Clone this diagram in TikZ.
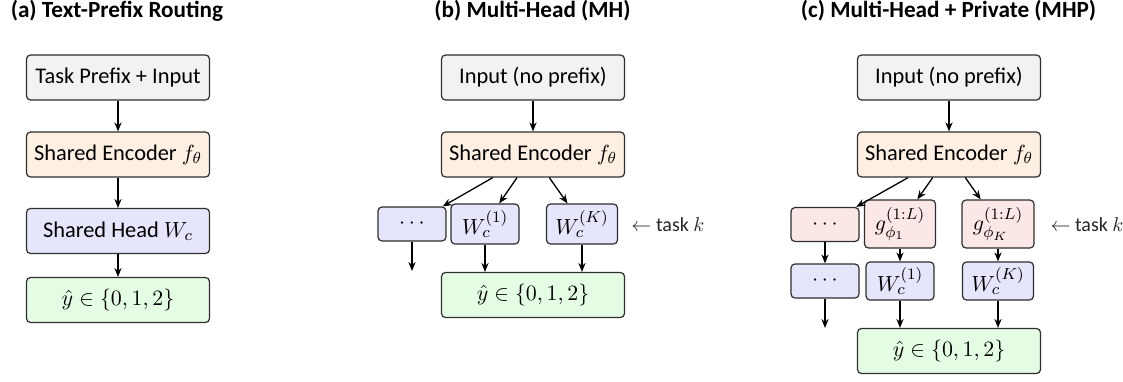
\documentclass[tikz,border=0pt]{standalone}
\usepackage{fontspec}
\setmainfont{Carlito}
\usetikzlibrary{arrows.meta}
\definecolor{cin}{HTML}{F2F2F2}
\definecolor{cenc}{HTML}{FDEFE1}
\definecolor{chead}{HTML}{E5E5FB}
\definecolor{cout}{HTML}{E4FBE4}
\definecolor{cpriv}{HTML}{FCE7E7}
\definecolor{cborder}{HTML}{2E2E2E}
\begin{document}
\begin{tikzpicture}[x=0.5pt,y=-0.5pt,
  font=\fontsize{11.2}{13.5}\selectfont,
  box/.style={draw=cborder, rounded corners=2pt, line width=0.6pt, align=center, inner sep=1pt},
  big/.style={box, minimum width=91.5pt, minimum height=22.5pt},
  hbox/.style={box, minimum width=34pt, minimum height=20pt},
  dbox/.style={box, minimum width=34pt, minimum height=17pt},
  gbox/.style={box, minimum width=35.5pt, minimum height=24pt},
  arr/.style={-{Stealth[length=4.5pt,width=3.6pt]}, line width=0.65pt},
  ttl/.style={font=\fontsize{11.6}{13.5}\selectfont\bfseries, anchor=base},
  tk/.style={font=\fontsize{10}{12}\selectfont, text=black!85}]
\useasboundingbox (0,0) rectangle (1123,381);

% (a)
\node[ttl] (ta) at (117,17) {(a) Text-Prefix Routing};
\node[big, fill=cin] (a1) at (118,77.5) {Task Prefix + Input};
\node[big, fill=cenc] (a2) at (118,154.5) {Shared Encoder $f_\theta$};
\node[big, fill=chead] (a3) at (118,231) {Shared Head $W_c$};
\node[big, fill=cout] (a4) at (118,300) {$\hat{y}\in\{0,1,2\}$};
\draw[arr] (a1) -- (a2);
\draw[arr] (a2) -- (a3);
\draw[arr] (a3) -- (a4);

% (b)
\node[ttl] (tb) at (532.5,17) {(b) Multi-Head (MH)};
\node[big, fill=cin] (b1) at (533,77.5) {Input (no prefix)};
\node[big, fill=cenc] (b2) at (533,154.5) {Shared Encoder $f_\theta$};
\node[dbox, fill=chead] (bd) at (412,224) {$\cdots$};
\node[hbox, fill=chead] (bw1) at (485,224) {$W_c^{(1)}$};
\node[hbox, fill=chead, minimum width=35.5pt] (bwk) at (582,224) {$W_c^{(K)}$};
\node[big, fill=cout] (b4) at (533,295) {$\hat{y}\in\{0,1,2\}$};
\coordinate (bdend) at (412,271);
\node[tk] (bk) at (668,225) {$\leftarrow$ task $k$};
\draw[arr] (b1) -- (b2);
\draw[arr] (b2) -- (bd);
\draw[arr] (b2) -- (bw1);
\draw[arr] (b2) -- (bwk);
\draw[arr] (bd) -- (bdend);
\draw[arr] (bw1) -- (bw1 |- b4.north);
\draw[arr] (bwk) -- (bwk |- b4.north);

% (c)
\node[ttl] (tc) at (948.5,17) {(c) Multi-Head + Private (MHP)};
\node[big, fill=cin] (c1) at (949,77.5) {Input (no prefix)};
\node[big, fill=cenc] (c2) at (949,154.5) {Shared Encoder $f_\theta$};
\node[dbox, fill=cpriv] (cpd) at (825,224.5) {$\cdots$};
\node[gbox, fill=cpriv] (cg1) at (900,224) {$g^{(1:L)}_{\phi_1}$};
\node[gbox, fill=cpriv, minimum width=36pt] (cgk) at (998,224) {$g^{(1:L)}_{\phi_K}$};
\node[dbox, fill=chead] (cwd) at (825,281) {$\cdots$};
\node[hbox, fill=chead, minimum height=19pt] (cw1) at (900,281) {$W_c^{(1)}$};
\node[hbox, fill=chead, minimum height=19pt, minimum width=35.5pt] (cwk) at (998,281) {$W_c^{(K)}$};
\node[big, fill=cout] (c4) at (949,351) {$\hat{y}\in\{0,1,2\}$};
\coordinate (cdend) at (825,328);
\node[tk] (ck) at (1087,225) {$\leftarrow$ task $k$};
\draw[arr] (c1) -- (c2);
\draw[arr] (c2) -- (cpd);
\draw[arr] (c2) -- (cg1);
\draw[arr] (c2) -- (cgk);
\draw[arr] (cpd) -- (cwd);
\draw[arr] (cg1) -- (cw1);
\draw[arr] (cgk) -- (cwk);
\draw[arr] (cwd) -- (cdend);
\draw[arr] (cw1) -- (cw1 |- c4.north);
\draw[arr] (cwk) -- (cwk |- c4.north);
\end{tikzpicture}
\end{document}
